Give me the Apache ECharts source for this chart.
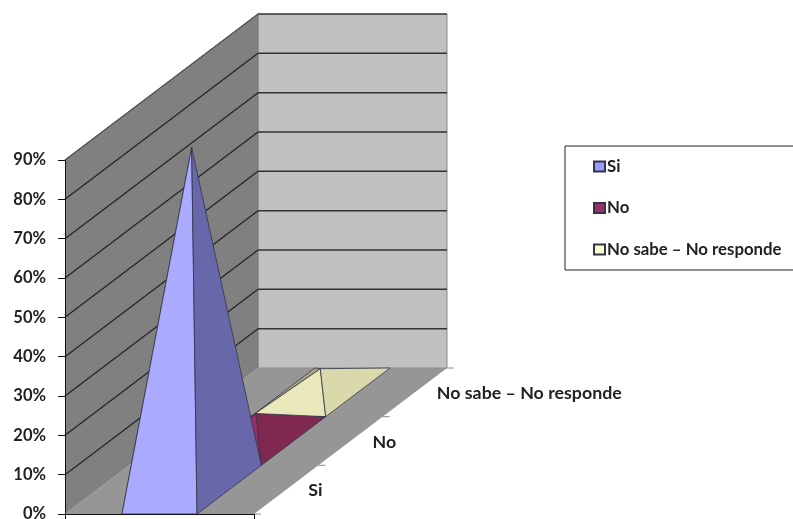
<!DOCTYPE html>
<html>
<head>
<meta charset="utf-8">
<style>html,body{margin:0;padding:0;background:#fff}#chart{width:793px;height:519px;overflow:hidden}</style>
<script src="https://cdn.jsdelivr.net/npm/echarts@6/dist/echarts.min.js"></script>
</head>
<body>
<div id="chart"></div>
<script>
// Survey answers, in percent
var categories = ['Si', 'No', 'No sabe \u2013 No responde'];
var values = [87, 7, 6];
var yTicks = [0, 10, 20, 30, 40, 50, 60, 70, 80, 90];

// Per-answer face colours: legend swatch, front, right and left faces
var swatchColors = ['#9999ff', '#993366', '#ffffcc'];
var frontColors = ['#aaaaff', '#9a2f66', '#e8e8bb'];
var rightColors = ['#6767aa', '#7f2850', '#d9d9ab'];
var leftColors = ['#55558c', '#661f40', '#a9a985'];

// Oblique projection of the depth axis, in pixels
var DEPTH_X = 193;
var DEPTH_Y = 146;
var BASE_RATIO = 0.397;
var FONT = 'Lato, Carlito, sans-serif';
var TEXT_COLOR = '#222222';

function depthStep(d) {
  return [d * DEPTH_X / categories.length, -d * DEPTH_Y / categories.length];
}

function shift(p, d) {
  var s = depthStep(d);
  return [p[0] + s[0], p[1] + s[1]];
}

function poly(points, fill, stroke, width) {
  return {
    type: 'polygon',
    shape: { points: points },
    style: { fill: fill, stroke: stroke || null, lineWidth: width || 0 }
  };
}

function line(a, b, color, width) {
  return {
    type: 'line',
    shape: { x1: a[0], y1: a[1], x2: b[0], y2: b[1] },
    style: { stroke: color, lineWidth: width || 1 }
  };
}

// Walls, floor, gridlines and the depth axis with its labels
function renderBox(params, api) {
  var n = categories.length;
  var w = api.size([1, 0])[0];
  var cx = api.coord([0, 0])[0];
  var yBase = api.coord([0, yTicks[0]])[1];
  var yTop = api.coord([0, yTicks[yTicks.length - 1]])[1];
  var xl = cx - w / 2;
  var xr = cx + w / 2;
  var fl = [xl, yBase], fr = [xr, yBase];
  var tl = [xl, yTop], tr = [xr, yTop];
  var kids = [
    poly([fl, fr, shift(fr, n), shift(fl, n)], '#969696'),
    poly([fl, tl, shift(tl, n), shift(fl, n)], '#808080'),
    poly([shift(fl, n), shift(tl, n), shift(tr, n), shift(fr, n)], '#c0c0c0'),
    line(shift(fr, n), shift([xr, yTop], n), '#8c8c8c', 1),
    line(shift(fl, n), shift(tl, n), '#707070', 1),
    line(tl, shift(tl, n), '#555555', 1),
    line(shift(fl, n), shift(fr, n), '#8c8c8c', 1)
  ];
  yTicks.forEach(function (t) {
    if (t === yTicks[0]) { return; }
    var y = api.coord([0, t])[1];
    var a = [xl, y];
    kids.push(line(a, shift(a, n), t === yTicks[yTicks.length - 1] ? '#555555' : '#222222', 1.2));
    kids.push(line(shift(a, n), shift([xr, y], n), '#333333', 1.5));
  });
  // Depth axis ticks and labels along the right edge of the floor
  for (var d = 0; d <= n; d++) {
    var p = shift(fr, d);
    kids.push(line(p, [p[0] + 7, p[1]], '#8c8c8c', 1));
  }
  categories.forEach(function (name, i) {
    var m = shift(fr, i + 0.5);
    kids.push({
      type: 'text',
      style: {
        text: name,
        x: m[0] + 22,
        y: m[1] + 1,
        textAlign: 'left',
        textVerticalAlign: 'middle',
        font: 'bold 17.8px ' + FONT,
        fill: TEXT_COLOR
      }
    });
  });
  return { type: 'group', children: kids };
}

// One square-based pyramid standing in row i of the depth axis
function pyramid(i) {
  return function (params, api) {
    var hw = api.size([1, 0])[0] * BASE_RATIO / 2;
    var base = api.coord([api.value(0), 0]);
    var peak = api.coord([api.value(0), api.value(1)]);
    var fl = shift([base[0] - hw, base[1]], i);
    var fr = shift([base[0] + hw, base[1]], i);
    var bl = shift([base[0] - hw, base[1]], i + 1);
    var br = shift([base[0] + hw, base[1]], i + 1);
    var tip = shift(peak, i + 0.5);
    return {
      type: 'group',
      children: [
        poly([fl, bl, tip], leftColors[i], '#3a3a3a', 0.8),
        poly([fl, fr, tip], frontColors[i], '#33334d', 0.8),
        poly([fr, br, tip], rightColors[i], '#33334d', 0.8)
      ]
    };
  };
}

var series = [{
  name: 'box',
  type: 'custom',
  silent: true,
  clip: false,
  z: 1,
  renderItem: renderBox,
  data: [[0, 0]]
}];

// Painted back to front so nearer pyramids hide the farther ones
for (var i = categories.length - 1; i >= 0; i--) {
  series.push({
    name: categories[i],
    type: 'custom',
    clip: false,
    z: 3,
    renderItem: pyramid(i),
    itemStyle: { color: swatchColors[i], borderColor: '#33334d', borderWidth: 1 },
    data: [[0, values[i]]]
  });
}

var chart = echarts.init(document.getElementById('chart'), null, { renderer: 'canvas' });
chart.setOption({
  animation: false,
  backgroundColor: '#ffffff',
  grid: { left: 65, top: 160, width: 189, height: 354, outerBoundsMode: 'none' },
  xAxis: {
    type: 'category',
    data: [''],
    boundaryGap: true,
    axisLine: { lineStyle: { color: '#111111', width: 1 } },
    axisTick: { show: true, length: 6, lineStyle: { color: '#111111' } },
    axisLabel: { show: false },
    z: 5
  },
  yAxis: {
    type: 'value',
    min: yTicks[0],
    max: yTicks[yTicks.length - 1],
    interval: yTicks[1] - yTicks[0],
    splitLine: { show: false },
    axisLine: { show: true, lineStyle: { color: '#111111', width: 1 } },
    axisTick: { show: true, length: 7, lineStyle: { color: '#111111' } },
    axisLabel: {
      formatter: '{value}%',
      margin: 19,
      fontFamily: FONT,
      fontWeight: 'bold',
      fontSize: 16.5,
      color: TEXT_COLOR
    },
    z: 5
  },
  legend: {
    orient: 'vertical',
    left: 565,
    top: 146,
    data: categories,
    icon: 'rect',
    itemWidth: 11,
    itemHeight: 10,
    itemGap: 24.5,
    selectedMode: false,
    padding: [12, 40, 12, 28],
    borderColor: '#222222',
    borderWidth: 1,
    textStyle: {
      fontFamily: FONT,
      fontWeight: 'bold',
      fontSize: 16.8,
      color: TEXT_COLOR,
      padding: [0, 0, 0, -3]
    }
  },
  series: series
});
</script>
</body>
</html>
